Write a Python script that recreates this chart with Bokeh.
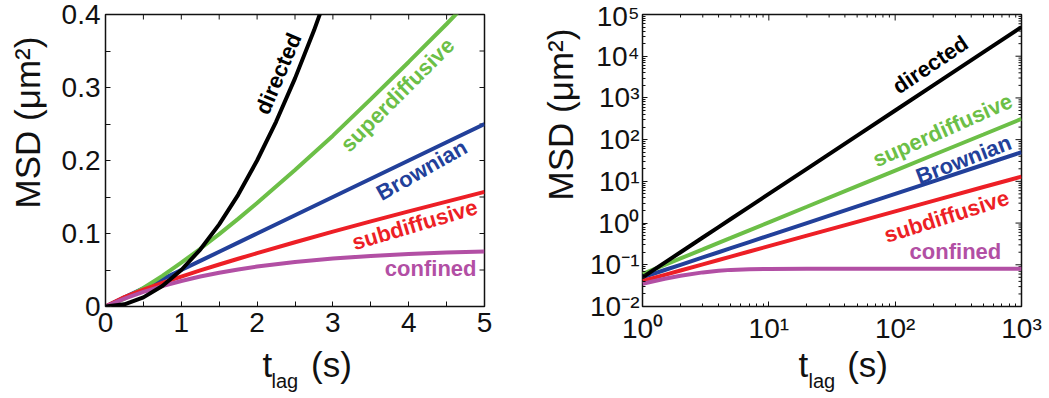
import math
from bokeh.plotting import figure
from bokeh.models import Range1d, FixedTicker, Label, CustomJSTickFormatter
from bokeh.layouts import row
from bokeh.embed import file_html
from bokeh.resources import INLINE

# ---------------- data ----------------
# Left panel (linear axes): lag time in s, MSD in um^2
t_lin = [0, 0.25, 0.5, 0.75, 1, 1.25, 1.5, 1.75, 2, 2.5, 3, 3.5, 4, 4.5, 5]
t_dir_lin = [0, 0.25, 0.5, 0.75, 1, 1.25, 1.5, 1.75, 2, 2.25, 2.5, 2.75, 3]
directed_lin = [0, 0.003, 0.0125, 0.028, 0.05, 0.078, 0.1125, 0.153, 0.2, 0.253, 0.3125, 0.378, 0.45]
superdiff_lin = [0, 0.0107, 0.0254, 0.042, 0.06, 0.0791, 0.0992, 0.120, 0.1417, 0.187, 0.234, 0.284, 0.335, 0.387, 0.441]
brownian_lin = [0, 0.0125, 0.025, 0.0375, 0.05, 0.0625, 0.075, 0.0875, 0.1, 0.125, 0.15, 0.175, 0.2, 0.225, 0.25]
subdiff_lin = [0, 0.0129, 0.0230, 0.0323, 0.041, 0.0494, 0.0575, 0.0654, 0.0731, 0.0880, 0.1025, 0.1166, 0.1303, 0.1437, 0.157]
confined_lin = [0, 0.0107, 0.0200, 0.0280, 0.0350, 0.0410, 0.0462, 0.0507, 0.0547, 0.0610, 0.0657, 0.0693, 0.0720, 0.0740, 0.0755]

# Right panel (log-log axes)
t_log = [1, 1.5, 2, 3, 4, 5, 7, 10, 20, 50, 100, 200, 500, 1000]
directed_log = [0.05, 0.1125, 0.2, 0.45, 0.8, 1.25, 2.45, 5, 20, 125, 500, 2000, 12500, 50000]
superdiff_log = [0.06, 0.0992, 0.1417, 0.234, 0.335, 0.441, 0.670, 1.043, 2.46, 7.67, 18.1, 42.8, 133, 315]
brownian_log = [0.05, 0.075, 0.1, 0.15, 0.2, 0.25, 0.35, 0.5, 1, 2.5, 5, 10, 25, 50]
subdiff_log = [0.041, 0.0575, 0.0731, 0.1025, 0.1303, 0.157, 0.208, 0.280, 0.499, 1.071, 1.909, 3.40, 7.31, 13.0]
confined_log = [0.035, 0.0462, 0.0547, 0.0657, 0.0720, 0.0755, 0.0786, 0.0797, 0.08, 0.08, 0.08, 0.08, 0.08, 0.08]

series_names = ["directed", "superdiffusive", "Brownian", "subdiffusive", "confined"]

# tick values / labels
lin_x_ticks = [0, 1, 2, 3, 4, 5]
lin_x_minor = [0.5, 1.5, 2.5, 3.5, 4.5]
lin_y_ticks = [0, 0.1, 0.2, 0.3, 0.4]
lin_y_minor = [0.05, 0.15, 0.25, 0.35]
log_x_ticks = [1, 10, 100, 1000]
log_x_labels = ["10⁰", "10¹", "10²", "10³"]
log_y_ticks = [0.01, 0.1, 1, 10, 100, 1000, 10000, 100000]
log_y_labels = ["10⁻²", "10⁻¹", "10⁰", "10¹", "10²", "10³", "10⁴", "10⁵"]

NBSP = "\u00a0"
x_title_main = "t" + NBSP * 4 + "(s)"
x_title_sub = "lag"
y_title = "MSD (μm²)"

# ---------------- styling ----------------
COLORS = {
    "directed": "#000000",
    "superdiffusive": "#6cbf47",
    "Brownian": "#22409a",
    "subdiffusive": "#ed1f26",
    "confined": "#b24fa4",
}
FONT = "Liberation Sans"
INK = "#111111"
LW = 4


def style_axis(ax, minor_in=5, standoff=5):
    ax.axis_line_color = None
    ax.major_tick_in = 5
    ax.major_tick_out = 0
    ax.minor_tick_in = minor_in
    ax.minor_tick_out = 0
    ax.major_tick_line_color = INK
    ax.minor_tick_line_color = INK
    ax.major_label_text_font = FONT
    ax.major_label_text_color = INK
    ax.major_label_text_font_size = "28px"
    ax.major_label_standoff = standoff


def add_label(p, text, x, y, size, color=INK, angle=0.0, align="left",
              baseline="middle", bold=False, place=None):
    lab = Label(x=x, y=y, text=text, text_font=FONT, text_font_size=size,
                text_color=color, angle=math.radians(angle), text_align=align,
                text_baseline=baseline, text_font_style="bold" if bold else "normal")
    if place is None:
        p.add_layout(lab)
    else:
        p.add_layout(lab, place)


def log_formatter(vals, labels):
    return CustomJSTickFormatter(args=dict(tick_vals=vals, tick_labels=labels), code="""
        for (let i = 0; i < tick_vals.length; i++) {
            if (Math.abs(Math.log10(tick_vals[i]) - Math.log10(tick)) < 1e-6) return tick_labels[i];
        }
        return "";
    """)


def base_fig(**kw):
    p = figure(output_backend="svg", toolbar_location=None, height=398,
               min_border_top=14, min_border_bottom=92, title=None, **kw)
    p.outline_line_color = INK
    p.outline_line_width = 1.5
    p.xgrid.visible = False
    p.ygrid.visible = False
    p.background_fill_color = "white"
    p.border_fill_color = "white"
    return p


def edge_ticks(p, xs, y_edge, ys, x_edge, size):
    # inward tick marks on the top and right edges (half of each dash is clipped)
    p.scatter(xs, [y_edge] * len(xs), marker="dash", size=size, angle=math.pi / 2,
              line_color=INK, line_width=1)
    p.scatter([x_edge] * len(ys), ys, marker="dash", size=size, angle=0,
              line_color=INK, line_width=1)


# ---------------- left panel ----------------
p1 = base_fig(width=524, x_range=Range1d(0, 5), y_range=Range1d(0, 0.4),
              min_border_left=105, min_border_right=40)
p1.xaxis.ticker = FixedTicker(ticks=lin_x_ticks, minor_ticks=lin_x_minor)
p1.yaxis.ticker = FixedTicker(ticks=lin_y_ticks, minor_ticks=lin_y_minor)
style_axis(p1.xaxis[0], standoff=6)
style_axis(p1.yaxis[0], standoff=5)

edge_ticks(p1, lin_x_ticks + lin_x_minor, 0.4, lin_y_ticks + lin_y_minor, 5, 10)

p1.line(t_lin, brownian_lin, color=COLORS["Brownian"], line_width=LW)
p1.line(t_lin, superdiff_lin, color=COLORS["superdiffusive"], line_width=LW)
p1.line(t_lin, subdiff_lin, color=COLORS["subdiffusive"], line_width=LW)
p1.line(t_lin, confined_lin, color=COLORS["confined"], line_width=LW)
p1.line(t_dir_lin, directed_lin, color=COLORS["directed"], line_width=LW)

left_lab = [(2.28, 0.319, 67), (3.85, 0.290, 45), (4.17, 0.187, 29.5),
            (4.08, 0.112, 16.5), (4.29, 0.052, 0)]
for name, (x, y, a) in zip(series_names, left_lab):
    add_label(p1, name, x, y, "22px", COLORS[name], a, "center", bold=True)

# axis titles (kept in side panels so that they are not clipped by the frame)
add_label(p1, y_title, -1.029, 0.252, "35px", angle=90, align="center", place="left")
add_label(p1, x_title_main, 2.071, -0.0795, "35px", place="below")
add_label(p1, x_title_sub, 2.19, -0.1014, "20px", place="right")

# ---------------- right panel ----------------
p2 = base_fig(width=525, x_axis_type="log", y_axis_type="log",
              x_range=Range1d(1, 1000), y_range=Range1d(1e-2, 1e5),
              min_border_left=118, min_border_right=28)

x_minor = [m * d for d in (1, 10, 100) for m in range(2, 10)]
y_minor = [m * d for d in log_y_ticks[:-1] for m in range(2, 10)]
p2.xaxis.ticker = FixedTicker(ticks=log_x_ticks, minor_ticks=x_minor)
p2.yaxis.ticker = FixedTicker(ticks=log_y_ticks, minor_ticks=y_minor)
p2.xaxis.formatter = log_formatter(log_x_ticks, log_x_labels)
p2.yaxis.formatter = log_formatter(log_y_ticks, log_y_labels)
style_axis(p2.xaxis[0], minor_in=3, standoff=6)
style_axis(p2.yaxis[0], minor_in=3, standoff=3)

edge_ticks(p2, log_x_ticks, 1e5, log_y_ticks, 1000, 12)
edge_ticks(p2, x_minor, 1e5, y_minor, 1000, 6)

p2.line(t_log, brownian_log, color=COLORS["Brownian"], line_width=LW)
p2.line(t_log, superdiff_log, color=COLORS["superdiffusive"], line_width=LW)
p2.line(t_log, subdiff_log, color=COLORS["subdiffusive"], line_width=LW)
p2.line(t_log, confined_log, color=COLORS["confined"], line_width=LW)
p2.line(t_log, directed_log, color=COLORS["directed"], line_width=LW)

right_lab = [(190, 6310, 34), (237, 169, 24), (348, 33.4, 21),
             (255, 1.45, 17.5), (300, 0.206, 0)]
for name, (x, y, a) in zip(series_names, right_lab):
    add_label(p2, name, x, y, "22px", COLORS[name], a, "center", bold=True)

add_label(p2, y_title, 0.2244, 401, "35px", angle=90, align="center", place="left")
add_label(p2, x_title_main, 17.18, 4.07e-4, "35px", place="below")
add_label(p2, x_title_sub, 20.6, 1.68e-4, "20px", place="right")

layout = row(p1, p2, spacing=0)
open("out.html", "w").write(file_html(layout, INLINE))
